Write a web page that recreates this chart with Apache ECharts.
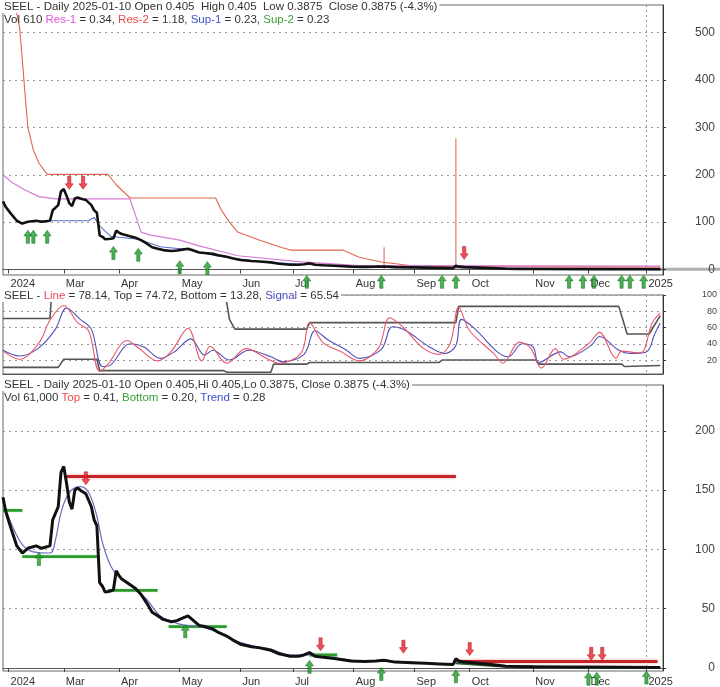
<!DOCTYPE html>
<html><head><meta charset="utf-8">
<script src="https://cdn.jsdelivr.net/npm/echarts@6/dist/echarts.min.js"></script>
<style>html,body{margin:0;padding:0;background:#fff}#c{width:720px;height:687px}</style>
</head><body><div id="c"></div>
<script>
// ---- calendar (trading days) ----
const holidays = ['2024-02-19','2024-03-29','2024-05-27','2024-06-19','2024-07-04','2024-09-02','2024-11-28','2024-12-25','2025-01-01','2025-01-09'];
const monthNames = ['Jan','Feb','Mar','Apr','May','Jun','Jul','Aug','Sep','Oct','Nov','Dec'];

// ---- panel 1 : price with resistance / support ----
const price = [['2024-01-30',144],['2024-01-31',132],['2024-02-02',117],['2024-02-06',103],['2024-02-08',97],['2024-02-12',101],['2024-02-15',103],['2024-02-20',101],['2024-02-23',103],['2024-02-26',125],['2024-02-28',136],['2024-02-29',165],['2024-03-01',170],['2024-03-04',156],['2024-03-05',140],['2024-03-06',134],['2024-03-07',150],['2024-03-08',152],['2024-03-11',150],['2024-03-13',147],['2024-03-15',136],['2024-03-18',125],['2024-03-19',120],['2024-03-20',72],['2024-03-21',69],['2024-03-22',64],['2024-03-26',65],['2024-03-27',66],['2024-03-28',82],['2024-04-01',78],['2024-04-02',75],['2024-04-04',72],['2024-04-09',67],['2024-04-11',62],['2024-04-15',55],['2024-04-17',47],['2024-04-19',44],['2024-04-23',41],['2024-04-26',39],['2024-04-30',40],['2024-05-02',42],['2024-05-06',44],['2024-05-08',40],['2024-05-10',36],['2024-05-14',35],['2024-05-17',33],['2024-05-21',30],['2024-05-24',27],['2024-05-29',24],['2024-06-03',20],['2024-06-07',18],['2024-06-12',17],['2024-06-18',15],['2024-06-24',12],['2024-06-28',10],['2024-07-03',10],['2024-07-08',11],['2024-07-10',13],['2024-07-12',10],['2024-07-17',9],['2024-07-23',8],['2024-07-31',6],['2024-08-07',5.5],['2024-08-13',6],['2024-08-16',6.5],['2024-08-22',5],['2024-08-30',4.5],['2024-09-09',4],['2024-09-16',3.5],['2024-09-23',3],['2024-09-24',8],['2024-09-25',6],['2024-09-27',5],['2024-10-04',4],['2024-10-11',3],['2024-10-18',1.5],['2024-10-25',1.2],['2024-11-01',1],['2024-12-02',0.8],['2025-01-10',0.4]];
const res1 = [['2024-01-30',200],['2024-02-02',185],['2024-02-09',168],['2024-02-16',154],['2024-02-27',149],['2024-04-05',149],['2024-04-11',79],['2024-04-16',73],['2024-05-01',62],['2024-05-10',50],['2024-05-31',29],['2024-07-05',16],['2024-08-05',8],['2024-09-03',8],['2025-01-10',7]];
const res2 = [['2024-02-05',620],['2024-02-06',540],['2024-02-07',512],['2024-02-08',442],['2024-02-09',370],['2024-02-12',300],['2024-02-14',252],['2024-02-16',225],['2024-02-22',201],['2024-03-25',201],['2024-03-28',179],['2024-04-05',151],['2024-05-20',151],['2024-05-22',126],['2024-05-28',100],['2024-05-31',79],['2024-06-12',62],['2024-06-24',48],['2024-06-28',41],['2024-07-26',41],['2024-08-05',26],['2024-08-15',16],['2024-08-30',8],['2024-09-20',6],['2025-01-10',5]];
const sup1 = [['2024-02-16',103],['2024-03-14',103],['2024-03-18',110],['2024-03-20',92],['2024-03-26',70],['2024-04-01',68],['2024-04-10',64],['2024-04-22',48],['2024-05-06',42],['2024-05-21',28],['2024-06-12',17],['2024-07-05',11],['2024-08-05',6],['2024-09-20',4],['2024-11-15',2],['2025-01-10',1]];
const volSpikes = [['2024-08-16',47],['2024-09-24',277]];
const sellArrows1 = [['2024-03-05',183],['2024-03-12',183],['2024-09-27',35]];
const buyArrows1 = [['2024-02-12',69],['2024-02-14',69],['2024-02-22',69],['2024-03-27',35],['2024-04-10',31],['2024-05-01',5],['2024-05-15',3],['2024-07-09',-26],['2024-08-15',-26],['2024-09-17',-26],['2024-09-24',-26],['2024-11-20',-26],['2024-11-27',-26],['2024-12-04',-26],['2024-12-18',-26],['2024-12-23',-26],['2024-12-31',-26]];
const ticks1 = [0,100,200,300,400,500];

// ---- panel 2 : oscillator ----
const oscLine = [['2024-01-30',31],['2024-02-07',21],['2024-02-16',41],['2024-02-23',69],['2024-03-01',87],['2024-03-08',66],['2024-03-14',56],['2024-03-20',6],['2024-03-25',15],['2024-04-04',44],['2024-04-10',35],['2024-04-19',19],['2024-04-26',31],['2024-05-06',59],['2024-05-13',19],['2024-05-16',37],['2024-05-24',16],['2024-06-05',34],['2024-06-17',21],['2024-06-24',16],['2024-07-05',29],['2024-07-10',66],['2024-07-17',41],['2024-07-25',31],['2024-08-05',19],['2024-08-14',35],['2024-08-20',72],['2024-08-27',60],['2024-09-06',35],['2024-09-16',27],['2024-09-20',41],['2024-09-25',85],['2024-10-01',56],['2024-10-14',27],['2024-10-17',16],['2024-10-25',42],['2024-10-31',35],['2024-11-06',10],['2024-11-13',34],['2024-11-18',21],['2024-12-02',40],['2024-12-06',54],['2024-12-16',22],['2024-12-18',31],['2024-12-27',29],['2024-12-31',31],['2025-01-06',65],['2025-01-10',78.14]];
const oscSignal = [['2024-01-30',32],['2024-02-07',25],['2024-02-16',35],['2024-02-27',58],['2024-03-04',84],['2024-03-11',70],['2024-03-15',58],['2024-03-21',12],['2024-03-26',14],['2024-04-05',40],['2024-04-12',36],['2024-04-22',22],['2024-04-29',30],['2024-05-07',46],['2024-05-14',26],['2024-05-17',32],['2024-05-28',20],['2024-06-06',32],['2024-06-18',24],['2024-06-25',18],['2024-07-08',27],['2024-07-12',56],['2024-07-19',44],['2024-07-29',33],['2024-08-05',22],['2024-08-15',33],['2024-08-21',61],['2024-08-28',56],['2024-09-10',37],['2024-09-18',28],['2024-09-24',38],['2024-09-26',70],['2024-10-03',58],['2024-10-15',30],['2024-10-21',24],['2024-10-28',40],['2024-11-01',36],['2024-11-05',17],['2024-11-15',30],['2024-11-20',24],['2024-12-03',38],['2024-12-06',49],['2024-12-17',32],['2024-12-23',28],['2025-01-02',30],['2025-01-07',52],['2025-01-10',65.54]];
const oscTop = [['2024-01-30',71],['2024-02-23',71],['2024-02-26',120],['2024-05-23',120],['2024-05-24',91],['2024-05-28',70],['2024-05-30',58],['2024-07-09',58],['2024-07-10',66],['2024-09-24',66],['2024-09-25',86],['2024-12-17',86],['2024-12-20',52],['2025-01-03',52],['2025-01-10',74.72]];
const oscBottom = [['2024-01-30',11],['2024-02-28',11],['2024-03-01',21],['2024-03-19',21],['2024-03-20',7],['2024-05-23',7],['2024-05-24',5],['2024-06-18',5],['2024-06-20',15],['2024-07-09',15],['2024-07-10',17],['2024-09-16',17],['2024-09-17',20],['2024-11-04',20],['2024-11-05',15],['2024-12-18',15],['2024-12-19',12],['2025-01-10',13.28]];
const ticks2 = [20,40,60,80,100];

// ---- panel 3 : price with top / bottom / trend ----
const trend3 = [['2024-01-30',140],['2024-02-02',122],['2024-02-08',104],['2024-02-14',98],['2024-02-23',97],['2024-02-27',108],['2024-02-29',131],['2024-03-05',148],['2024-03-11',153],['2024-03-14',148],['2024-03-19',128],['2024-03-21',106],['2024-03-26',86],['2024-04-01',77],['2024-04-08',69],['2024-04-15',58],['2024-04-22',44],['2024-05-01',37],['2024-05-10',35],['2024-05-21',30],['2024-05-29',24],['2024-06-07',19],['2024-06-18',16],['2024-06-28',11],['2024-07-10',11],['2024-07-23',8.5],['2024-08-09',5.5],['2024-08-22',5.5],['2024-09-09',4.3],['2024-09-23',3.3],['2024-09-25',5.5],['2024-10-04',4.5],['2024-10-18',2],['2024-11-01',1.2],['2024-12-02',0.9],['2025-01-10',0.5]];
const topSegs3 = [['2024-03-04','2024-09-24',161.5],['2024-09-24','2025-01-08',5.5]];
const bottomSegs3 = [['2024-01-30','2024-02-08',133],['2024-02-08','2024-03-20',94],['2024-03-25','2024-04-19',65.5],['2024-04-25','2024-05-24',35],['2024-07-10','2024-07-24',11]];
const bottomTail3 = [['2024-09-24',4.2],['2024-10-15',1.7],['2024-11-19',0.8],['2025-01-10',0.3]];
const sellArrows3 = [['2024-03-13',160],['2024-07-16',20],['2024-08-27',18],['2024-10-01',16],['2024-12-03',12],['2024-12-09',12]];
const buyArrows3 = [['2024-02-16',92],['2024-05-03',31],['2024-07-10',1],['2024-08-15',-5],['2024-09-24',-7],['2024-12-02',-9],['2024-12-05',-9],['2025-01-02',-8]];
const ticks3 = [0,50,100,150,200];

// ---- build ----
function buildDays(){
  const out=[]; const d=new Date(Date.UTC(2024,0,30)); const end=new Date(Date.UTC(2025,0,13));
  while(d<=end){ const wd=d.getUTCDay(); const s=d.toISOString().slice(0,10);
    if(wd!==0&&wd!==6&&!holidays.includes(s)) out.push(s); d.setUTCDate(d.getUTCDate()+1); }
  return out;
}
const categories = buildDays();
const monthStart = categories.map((d,i)=> i>0 && d.slice(0,7)!==categories[i-1].slice(0,7));
function monthLabel(d){ const m=+d.slice(5,7); if(m===1) return d.slice(0,4); if(d.slice(0,7)==='2024-02') return '2024'; return monthNames[m-1]; }
function ix(s){ const i=categories.findIndex(c=>c>=s); return i<0?categories.length-1:i; }
function pts(a){ return a.map(p=>[ix(p[0]),p[1]]); }
function segs(a){ const out=[]; a.forEach(([s,e,v],k)=>{ if(k) out.push([ix(s),'-']); out.push([ix(s),v],[ix(e),v]); }); return out; }

const FONT = "'Liberation Sans', Arial, sans-serif";
const UP = 'path://M5,0L10,6L7,6L7,14L3,14L3,6L0,6Z';
const DOWN = 'path://M3,0L7,0L7,8L10,8L5,14L0,8L3,8Z';

function xAxisCfg(gi, show, margin){
  return { type:'category', gridIndex:gi, data:categories, boundaryGap:false,
    axisLine:{show:true, lineStyle:{color:'#555'}},
    axisTick:{show:show, interval:(i)=>monthStart[i], length:4, lineStyle:{color:'#444'}},
    axisLabel:{show:show, interval:(i)=>monthStart[i], formatter:(v)=>monthLabel(v), align:'left', margin:margin,
      fontSize:11, color:'#333', fontFamily:FONT, padding:[0,0,0,2]},
    splitLine:{show:true, interval:(i)=>categories[i]==='2025-01-02', lineStyle:{color:'#999', type:[2,3]}}
  };
}
function yAxisCfg(gi, min, max, vals, fs, margin){
  return { type:'value', gridIndex:gi, position:'right', min:min, max:max,
    axisLine:{show:true, lineStyle:{color:'#333'}},
    axisTick:{show:true, customValues:vals, length:3, lineStyle:{color:'#333'}},
    axisLabel:{customValues:vals, fontSize:fs, color:'#444', align:'right', margin:margin, fontFamily:FONT},
    splitLine:{show:true, lineStyle:{color:'#999', type:[2,4]}}
  };
}
function line(xi, data, color, width, extra){
  return Object.assign({ type:'line', xAxisIndex:xi, yAxisIndex:xi, data:data, symbol:'none', silent:true,
    lineStyle:{color:color, width:width}, z:3 }, extra||{});
}
function arrows(xi, data, up){
  return { type:'scatter', xAxisIndex:xi, yAxisIndex:xi, data:pts(data), clip:false, silent:true,
    symbol: up?UP:DOWN, symbolSize:[8,13], z:10,
    itemStyle:{color: up?'#1f9a2a':'#e8202a', borderColor: up?'#0d6d16':'#b01018', borderWidth:0.6} };
}
const T = {fontSize:11.5, fontWeight:'normal', color:'#333', fontFamily:FONT, lineHeight:13};
function rich(colors){ const r={}; Object.keys(colors).forEach(k=>{ r[k]={color:colors[k], fontSize:11.5, fontFamily:FONT}; }); return r; }

const option = {
  animation:false,
  backgroundColor:'#fff',
  title:[
    {left:2, top:0, padding:[0,2,0,2], backgroundColor:'#fff', text:'SEEL - Daily 2025-01-10 Open 0.405  High 0.405  Low 0.3875  Close 0.3875 (-4.3%)', textStyle:T},
    {left:2, top:13, padding:[0,2,0,2], text:'Vol 610 {a|Res-1} = 0.34, {b|Res-2} = 1.18, {c|Sup-1} = 0.23, {d|Sup-2} = 0.23',
      textStyle:Object.assign({}, T, {rich:rich({a:'#e055e0', b:'#e84848', c:'#3c50d0', d:'#3aa03a'})})},
    {left:2, top:289, padding:[0,2,0,2], backgroundColor:'#fff', text:'SEEL - {a|Line} = 78.14, Top = 74.72, Bottom = 13.28, {b|Signal} = 65.54',
      textStyle:Object.assign({}, T, {rich:rich({a:'#e84a5a', b:'#4848c0'})})},
    {left:2, top:378, padding:[0,2,0,2], backgroundColor:'#fff', text:'SEEL - Daily 2025-01-10 Open 0.405,Hi 0.405,Lo 0.3875, Close 0.3875 (-4.3%)', textStyle:T},
    {left:2, top:391, padding:[0,2,0,2], text:'Vol 61,000 {a|Top} = 0.41, {b|Bottom} = 0.20, {c|Trend} = 0.28',
      textStyle:Object.assign({}, T, {rich:rich({a:'#e84848', b:'#3aa03a', c:'#3c50d0'})})}
  ],
  grid:[
    {left:3, right:57, top:5, height:270, show:true, borderColor:'#666', borderWidth:1},
    {left:3, right:57, top:295, height:79, show:true, borderColor:'#666', borderWidth:1},
    {left:3, right:57, top:385, height:287, show:true, borderColor:'#666', borderWidth:1}
  ],
  xAxis:[ xAxisCfg(0,true,3), xAxisCfg(1,false,0), xAxisCfg(2,true,5) ],
  yAxis:[ yAxisCfg(0,-11.6,558.6,ticks1,12,52), yAxisCfg(1,2.8,100,ticks2,9,54), yAxisCfg(2,-2.5,238.7,ticks3,12,52) ],
  series:[
    // panel 1
    {type:'bar', xAxisIndex:0, yAxisIndex:0, data:pts(volSpikes), barWidth:1.2, silent:true, itemStyle:{color:'#e07a68'}, z:2},
    line(0, pts(res2), '#e0664e', 1.1),
    line(0, pts(res1), '#d77ad7', 1.2),
    line(0, pts(sup1), '#5a72c8', 1.1),
    line(0, pts(price), '#111', 2.6, {z:5}),
    arrows(0, sellArrows1, false),
    arrows(0, buyArrows1, true),
    // panel 2
    line(1, pts(oscTop), '#555', 1.6),
    line(1, pts(oscBottom), '#555', 1.6),
    line(1, pts(oscSignal), '#5050b8', 1.1, {smooth:0.35}),
    line(1, pts(oscLine), '#e8586a', 1.1, {smooth:0.35}),
    // panel 3
    line(2, segs(topSegs3), '#c22428', 3, {lineStyle:{color:'#c22428', width:3, shadowColor:'rgba(240,120,120,0.7)', shadowBlur:3}}),
    line(2, segs(bottomSegs3), '#2c9a2c', 2.8, {lineStyle:{color:'#2c9a2c', width:2.8, shadowColor:'rgba(120,220,120,0.6)', shadowBlur:2}}),
    line(2, pts(bottomTail3), '#24602a', 2.4),
    line(2, pts(trend3), '#6670c0', 1.2, {smooth:0.4}),
    line(2, pts(price), '#111', 3, {z:5}),
    arrows(2, sellArrows3, false),
    arrows(2, buyArrows3, true)
  ]
};
const chart = echarts.init(document.getElementById('c'), null, {renderer:'canvas'});
chart.setOption(option);
// last-price marker bar in the top panel, placed through the panel's own scale
const lastP = price[price.length-1];
const lp = chart.convertToPixel({gridIndex:0}, [ix(lastP[0]), lastP[1]]);
chart.setOption({ graphic:[{ type:'rect', z:-1, silent:true,
  shape:{ x: lp[0]-12, y: lp[1]-1.5, width: 720-(lp[0]-12), height:3 },
  style:{ fill:'#b0b0b0' } }] });
</script></body></html>
